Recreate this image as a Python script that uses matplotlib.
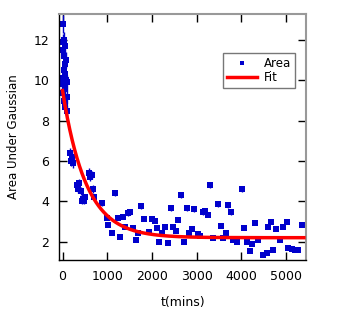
import numpy as np
import matplotlib.pyplot as plt
from matplotlib.lines import Line2D

# measured area under the gaussian vs time
t_early = [-20, 0, 5, 10, 15, 20, 25, 30, 35, 40, 45, 50, 55, 60, 65, 70, 80, 90, 100, 110]
a_early = [9.8, 12.8, 10.1, 11.9, 9.4, 11.5, 10.5, 12.0, 9.0, 11.2, 10.3, 8.7, 11.7, 9.6,
           10.8, 10.0, 11.0, 9.2, 8.5, 9.9]
e_early = [0.4, 0.45, 0.4, 0.4, 0.35, 0.4, 0.4, 0.4, 0.35, 0.4, 0.35, 0.3, 0.4, 0.35,
           0.4, 0.35, 0.4, 0.35, 0.3, 0.35]

t_late = [170, 190, 210, 230, 320, 350, 380, 410, 430, 450, 480, 500, 600, 620, 650,
          680, 700, 880, 990, 1010, 1100, 1170, 1240, 1280, 1350, 1400, 1460, 1510,
          1580, 1640, 1690, 1750, 1820, 1930, 2000, 2070, 2110, 2160, 2230, 2290,
          2360, 2430, 2470, 2540, 2590, 2650, 2720, 2780, 2840, 2900, 2950, 3030,
          3070, 3140, 3190, 3250, 3300, 3370, 3470, 3540, 3590, 3660, 3700, 3760,
          3810, 3900, 4010, 4060, 4130, 4190, 4240, 4300, 4370, 4480, 4570, 4600,
          4660, 4710, 4770, 4860, 4940, 5020, 5050, 5130, 5200, 5270, 5350]
a_late = [6.4, 6.0, 6.2, 5.9, 4.8, 4.6, 4.9, 4.5, 4.0, 4.1, 4.0, 4.2, 5.4, 5.2, 5.3,
          4.6, 4.2, 3.9, 3.2, 2.85, 2.45, 4.4, 3.2, 2.25, 3.25, 2.75, 3.4, 3.45,
          2.7, 2.1, 2.45, 3.75, 3.15, 2.5, 3.15, 3.05, 2.7, 2.0, 2.45, 2.75,
          1.95, 3.65, 2.75, 2.55, 3.1, 4.3, 2.0, 3.65, 2.45, 2.65, 3.6, 2.4,
          2.3, 3.45, 3.5, 3.35, 4.8, 2.2, 3.85, 2.8, 2.2, 2.45, 3.8, 3.45,
          2.1, 2.0, 4.6, 2.7, 2.0, 1.55, 1.9, 2.95, 2.1, 1.35, 1.45, 2.75,
          3.0, 1.6, 2.65, 2.1, 2.75, 3.0, 1.7, 1.65, 1.6, 1.6, 2.85]
e_late = [0.25, 0.25, 0.25, 0.25, 0.2, 0.2, 0.2, 0.2, 0.15, 0.15, 0.15, 0.15, 0.25, 0.2, 0.2,
          0.2, 0.15, 0.15, 0.12, 0.12, 0.1, 0.15, 0.12, 0.1, 0.12, 0.1, 0.12, 0.12,
          0.1, 0.1, 0.1, 0.15, 0.12, 0.1, 0.12, 0.12, 0.1, 0.1, 0.1, 0.1,
          0.1, 0.12, 0.1, 0.1, 0.12, 0.15, 0.1, 0.12, 0.1, 0.1, 0.12, 0.1,
          0.1, 0.12, 0.12, 0.12, 0.15, 0.1, 0.12, 0.1, 0.1, 0.1, 0.12, 0.12,
          0.1, 0.1, 0.15, 0.1, 0.1, 0.1, 0.1, 0.1, 0.1, 0.1, 0.1, 0.12,
          0.12, 0.1, 0.1, 0.1, 0.12, 0.12, 0.1, 0.1, 0.1, 0.1, 0.12]

t = np.array(t_early + t_late)
area = np.array(a_early + a_late)
err = np.array(e_early + e_late)

# exponential fit parameters: y = fit_c + fit_a * exp(-t / fit_tau)
fit_a = 7.3
fit_tau = 527.0
fit_c = 2.2
t_fit = np.linspace(0, 5400, 400)
y_fit = fit_c + fit_a * np.exp(-t_fit / fit_tau)

blue = '#0000cc'

fig = plt.figure(figsize=(3.38, 3.09), dpi=100)
ax = fig.add_axes([0.175, 0.159, 0.73, 0.796])

ax.errorbar(t, area, yerr=err, fmt='s', color=blue, ms=4.5, mew=0,
            ecolor=blue, elinewidth=1, capsize=2.5, capthick=1, zorder=2)
ax.plot(t_fit, y_fit, color='red', lw=2.5, zorder=3)

ax.set_xlim(-75, 5445)
ax.set_ylim(1.1, 13.3)
ax.set_xticks([0, 1000, 2000, 3000, 4000, 5000])
ax.set_yticks([2, 4, 6, 8, 10, 12])

ax.tick_params(direction='in', top=True, right=True, length=6, width=1,
               labelsize=9, pad=7)
for side in ['left', 'bottom']:
    ax.spines[side].set_linewidth(1)
    ax.spines[side].set_color('black')
for side in ['top', 'right']:
    ax.spines[side].set_linewidth(1.5)
    ax.spines[side].set_color('#999999')

ax.set_xlabel('t(mins)', fontsize=9, labelpad=10)
ax.set_ylabel('Area Under Gaussian', fontsize=8.5, labelpad=10)

handles = [Line2D([], [], ls='none', marker='s', ms=3.5, mew=0, color=blue),
           Line2D([], [], color='red', lw=2.5)]
leg = ax.legend(handles, ['Area', 'Fit'], loc='upper left', bbox_to_anchor=(0.664, 0.84),
                borderaxespad=0, fontsize=8.5, frameon=True, fancybox=False, borderpad=0.3,
                handlelength=2.6, handletextpad=0.6, labelspacing=0.1)
leg.get_frame().set_edgecolor('#555555')
leg.get_frame().set_linewidth(1)

fig.savefig('out.png', dpi=100)
